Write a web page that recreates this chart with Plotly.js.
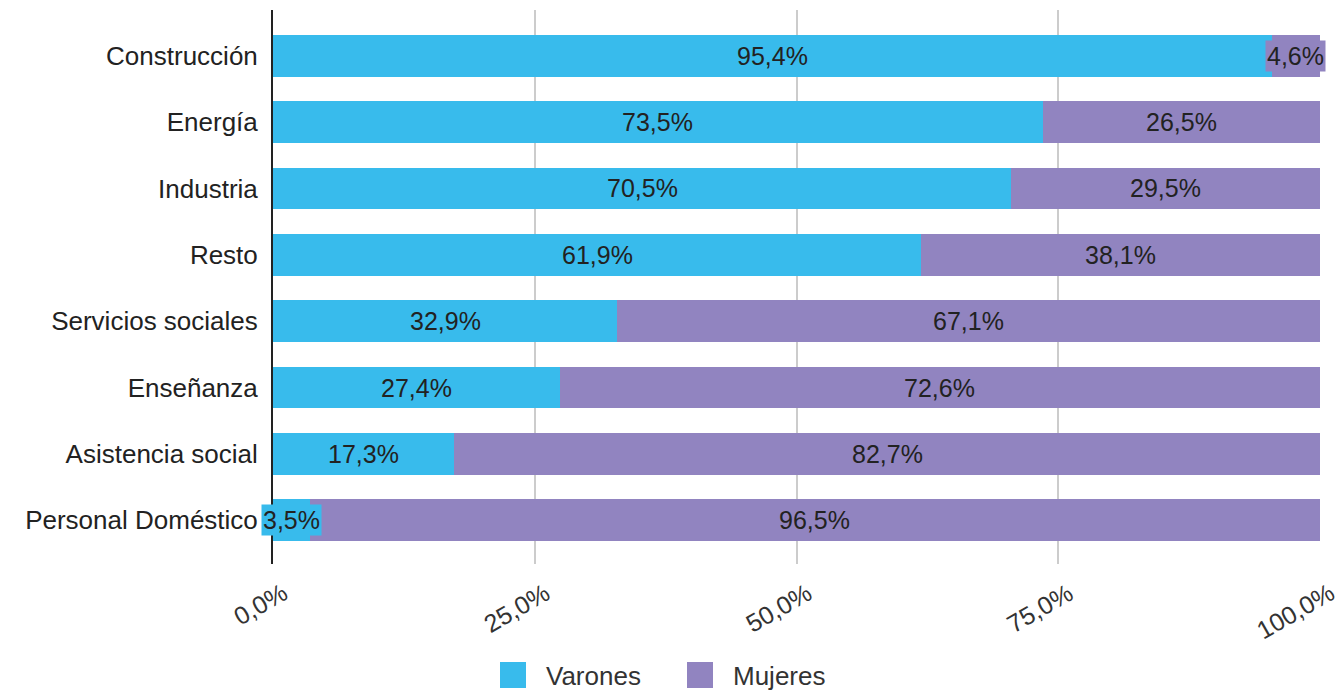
<!DOCTYPE html>
<html><head><meta charset="utf-8">
<script src="https://cdn.plot.ly/plotly-3.0.1.min.js"></script>
<style>html,body{margin:0;padding:0;background:#fff}#chart{width:1339px;height:691px}</style>
</head><body><div id="chart"></div>
<script>
const categories = ["Construcción","Energía","Industria","Resto","Servicios sociales","Enseñanza","Asistencia social","Personal Doméstico"];
const varones = [95.4, 73.5, 70.5, 61.9, 32.9, 27.4, 17.3, 3.5];
const mujeres = [4.6, 26.5, 29.5, 38.1, 67.1, 72.6, 82.7, 96.5];
const seriesNames = ["Varones", "Mujeres"];
const tickVals = [0, 25, 50, 75, 100];
const fmt = v => v.toFixed(1).replace('.', ',') + '%';

const FONT = '"Liberation Sans", Arial, sans-serif';
const COLORS = ['#38bbec', '#9184c0'];
const TXT = '#222';

const data = [varones, mujeres].map((vals, i) => ({
  type: 'bar', orientation: 'h', y: categories, x: vals, name: seriesNames[i],
  marker: {color: COLORS[i]}, hoverinfo: 'skip', textposition: 'none', showlegend: false
}));

// value labels, centered on each segment
const annotations = [];
categories.forEach((c, k) => {
  annotations.push({x: varones[k] / 2, y: c, xref: 'x', yref: 'y', text: fmt(varones[k]), showarrow: false,
    font: {family: FONT, size: 25, color: TXT}, bgcolor: COLORS[0], borderpad: 1});
  annotations.push({x: varones[k] + mujeres[k] / 2, y: c, xref: 'x', yref: 'y', text: fmt(mujeres[k]), showarrow: false,
    font: {family: FONT, size: 25, color: TXT}, bgcolor: COLORS[1], borderpad: 1});
});

// pixel-based helpers
const L = 273, R = 1320, T = 10, B = 564;
const px = v => (v - L) / (R - L);
const py = v => (B - v) / (B - T);

// rotated x tick labels
tickVals.forEach(v => {
  annotations.push({x: v, xref: 'x', yref: 'paper', y: py(575), xanchor: 'right', yanchor: 'top', xshift: 22,
    text: fmt(v), textangle: -30, showarrow: false, font: {family: FONT, size: 25, color: '#333'}});
});

// legend drawn manually
const shapes = [];
const legendX = [500, 687];
seriesNames.forEach((n, i) => {
  shapes.push({type: 'rect', xref: 'paper', yref: 'paper', x0: px(legendX[i]), x1: px(legendX[i] + 26),
    y0: py(688), y1: py(662), fillcolor: COLORS[i], line: {width: 0}});
  annotations.push({xref: 'paper', yref: 'paper', x: px(legendX[i] + 44), y: py(676), xanchor: 'left', yanchor: 'middle',
    text: n, showarrow: false, font: {family: FONT, size: 26, color: '#333'}});
});

const layout = {
  width: 1339, height: 691,
  margin: {l: L, r: 1339 - R, t: T, b: 691 - B},
  barmode: 'stack', bargap: 0.37,
  paper_bgcolor: '#fff', plot_bgcolor: '#fff',
  font: {family: FONT, size: 26, color: TXT},
  xaxis: {
    range: [0, 100], tickvals: tickVals, showticklabels: false,
    showgrid: true, gridcolor: '#cccccc', gridwidth: 2,
    zeroline: false, showline: false, ticks: '', ticklen: 0, fixedrange: true
  },
  yaxis: {
    autorange: false, range: [7.66, -0.69], type: 'category',
    showline: true, linecolor: '#222', linewidth: 2, showgrid: false, zeroline: false,
    ticks: '', ticklen: 0, ticklabelstandoff: 8,
    tickfont: {family: FONT, size: 26, color: TXT}
  },
  showlegend: false,
  annotations: annotations,
  shapes: shapes
};
Plotly.newPlot('chart', data, layout, {displayModeBar: false, staticPlot: true});
</script></body></html>
